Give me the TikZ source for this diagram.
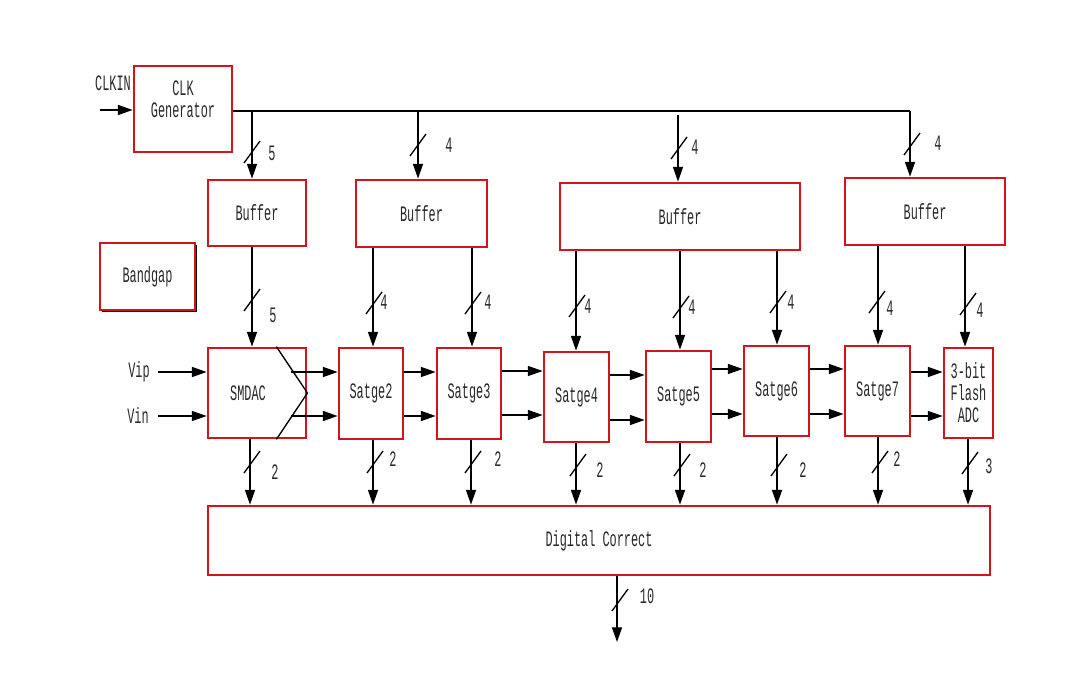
\documentclass[tikz,border=0pt]{standalone}
\usepackage{fontspec}
\setmainfont{Liberation Mono}[FakeStretch=0.54]
\usetikzlibrary{arrows.meta,fit,calc,shadows}
\definecolor{boxred}{RGB}{208,22,28}
\definecolor{inkgray}{RGB}{40,40,40}
\begin{document}
\begin{tikzpicture}[x=0.75pt,y=-0.75pt,
  every node/.style={font=\fontsize{16.5}{16.5}\selectfont, text=inkgray},
  blk/.style={draw=boxred, line width=2.1pt, fill=white, inner sep=0pt,
    general shadow={fill=black, shadow xshift=0.8pt, shadow yshift=-0.8pt}},
  txt/.style={label={[lbl, align=center]center:#1}},
  wire/.style={line width=1.1pt, black},
  arr/.style={wire, -{Triangle[length=11pt,width=7.5pt]}},
  slash/.style={line width=1pt, black},
  lbl/.style={inner sep=0pt}]
\useasboundingbox (0,0) rectangle (1087,698);

% ---- blocks ----
\node[blk, fit={(134,66) (232,152)}] (clk) {};
\node[lbl, align=center] (clktxt) at (183,99) {CLK\\Generator};
\node[blk, fit={(208,180) (306,246)}, txt=Buffer] (buf1) {};
\node[blk, fit={(356,180) (487,247)}, txt=Buffer] (buf2) {};
\node[blk, fit={(560,183) (800,250)}, txt=Buffer] (buf3) {};
\node[blk, fit={(845,178) (1005,245)}, txt=Buffer] (buf4) {};
\node[blk, fit={(100,243) (195,310)}, txt=Bandgap,
  general shadow={fill=black, shadow xshift=1.5pt, shadow yshift=-1.5pt}] (bg) {};
\node[blk, fit={(208,348) (306,438)}] (smdac) {};
\node[lbl] (smdactxt) at (248,393) {SMDAC};
\node[blk, fit={(339,348) (403,439)}, txt=Satge2] (s2) {};
\node[blk, fit={(437,348) (501,439)}, txt=Satge3] (s3) {};
\node[blk, fit={(544,352) (609,442)}, txt=Satge4] (s4) {};
\node[blk, fit={(646,351) (711,442)}, txt=Satge5] (s5) {};
\node[blk, fit={(744,346) (809,436)}, txt=Satge6] (s6) {};
\node[blk, fit={(845,346) (910,436)}, txt=Satge7] (s7) {};
\node[blk, fit={(944,348) (993,438)}, txt={3-bit\\Flash\\ADC}] (fl) {};
\node[blk, fit={(208,506) (990,575)}, txt={Digital Correct}] (dc) {};

% chevron inside the SMDAC block
\draw[line width=1pt] ($(smdac.north east)+(-31,0)$) -- (smdac.east) -- ($(smdac.south east)+(-31,0)$);

% ---- clock input and clock distribution ----
\coordinate (clkin) at (100,110);
\node[lbl] (clkinlbl) at (113,83) {CLKIN};
\draw[arr] (clkin) -- (clk.west |- clkin);

\coordinate (t1) at (252,111);
\coordinate (t2) at (418,111);
\coordinate (t3) at (678,115);
\coordinate (t4) at (910,111);
\draw[wire] (clk.east |- t1) -- (t4);
\draw[arr] (t1) -- (t1 |- buf1.north);
\draw[arr] (t2) -- (t2 |- buf2.north);
\draw[arr] (t3) -- (t3 |- buf3.north);
\draw[arr] (t4) -- (t4 |- buf4.north);
\draw[slash] (252,152) ++(-8,11) -- ++(16,-22);
\node[lbl] (c1) at (272,153) {5};
\draw[slash] (418,145) ++(-8,11) -- ++(16,-22);
\node[lbl] (c2) at (449,145) {4};
\draw[slash] (679,148) ++(-8,11) -- ++(16,-22);
\node[lbl] (c3) at (695,147) {4};
\draw[slash] (912,144) ++(-8,11) -- ++(16,-22);
\node[lbl] (c4) at (938,143) {4};

% ---- buffers to stages ----
\draw[arr] (buf1.south -| 252,0) -- (smdac.north -| 252,0);
\draw[slash] (252,300) ++(-8,11) -- ++(16,-22);
\node[lbl] (b1) at (273,315) {5};
\draw[arr] (buf2.south -| 373,0) -- (s2.north -| 373,0);
\draw[slash] (374,303) ++(-8,11) -- ++(16,-22);
\node[lbl] (b2) at (384,302) {4};
\draw[arr] (buf2.south -| 472,0) -- (s3.north -| 472,0);
\draw[slash] (473,303) ++(-8,11) -- ++(16,-22);
\node[lbl] (b3) at (488,302) {4};
\draw[arr] (buf3.south -| 576,0) -- (s4.north -| 576,0);
\draw[slash] (577,306) ++(-8,11) -- ++(16,-22);
\node[lbl] (b4) at (588,306) {4};
\draw[arr] (buf3.south -| 680,0) -- (s5.north -| 680,0);
\draw[slash] (681,307) ++(-8,11) -- ++(16,-22);
\node[lbl] (b5) at (692,307) {4};
\draw[arr] (buf3.south -| 777,0) -- (s6.north -| 777,0);
\draw[slash] (778,302) ++(-8,11) -- ++(16,-22);
\node[lbl] (b6) at (791,302) {4};
\draw[arr] (buf4.south -| 878,0) -- (s7.north -| 878,0);
\draw[slash] (877,302) ++(-8,11) -- ++(16,-22);
\node[lbl] (b7) at (890,308) {4};
\draw[arr] (buf4.south -| 965,0) -- (fl.north -| 965,0);
\draw[slash] (968,304) ++(-8,11) -- ++(16,-22);
\node[lbl] (b8) at (980,310) {4};

% ---- analog inputs ----
\node[lbl] (vip) at (139,372) {Vip};
\node[lbl] (vin) at (138,416) {Vin};
\draw[arr] (158,372) -- (smdac.west |- 0,372);
\draw[arr] (158,416) -- (smdac.west |- 0,416);

% ---- residue path between stages ----
\draw[arr] (291,372) -- (s2.west |- 0,372);
\draw[arr] (291,416) -- (s2.west |- 0,416);
\draw[arr] (s2.east |- 0,372) -- (s3.west |- 0,372);
\draw[arr] (s2.east |- 0,416) -- (s3.west |- 0,416);
\draw[arr] (s3.east |- 0,371) -- (s4.west |- 0,371);
\draw[arr] (s3.east |- 0,415) -- (s4.west |- 0,415);
\draw[arr] (s4.east |- 0,375) -- (s5.west |- 0,375);
\draw[arr] (s4.east |- 0,420) -- (s5.west |- 0,420);
\draw[arr] (s5.east |- 0,369) -- (s6.west |- 0,369);
\draw[arr] (s5.east |- 0,414) -- (s6.west |- 0,414);
\draw[arr] (s6.east |- 0,369) -- (s7.west |- 0,369);
\draw[arr] (s6.east |- 0,414) -- (s7.west |- 0,414);
\draw[arr] (s7.east |- 0,372) -- (fl.west |- 0,372);
\draw[arr] (s7.east |- 0,416) -- (fl.west |- 0,416);

% ---- stage outputs to digital correction ----
\draw[arr] (smdac.south -| 250,0) -- (dc.north -| 250,0);
\draw[slash] (252,462) ++(-8,11) -- ++(16,-22);
\node[lbl] (o1) at (275,472) {2};
\draw[arr] (s2.south -| 373,0) -- (dc.north -| 373,0);
\draw[slash] (375,462) ++(-8,11) -- ++(16,-22);
\node[lbl] (o2) at (393,459) {2};
\draw[arr] (s3.south -| 471,0) -- (dc.north -| 471,0);
\draw[slash] (473,462) ++(-8,11) -- ++(16,-22);
\node[lbl] (o3) at (498,459) {2};
\draw[arr] (s4.south -| 576,0) -- (dc.north -| 576,0);
\draw[slash] (578,465) ++(-8,11) -- ++(16,-22);
\node[lbl] (o4) at (600,470) {2};
\draw[arr] (s5.south -| 680,0) -- (dc.north -| 680,0);
\draw[slash] (682,465) ++(-8,11) -- ++(16,-22);
\node[lbl] (o5) at (703,470) {2};
\draw[arr] (s6.south -| 777,0) -- (dc.north -| 777,0);
\draw[slash] (779,465) ++(-8,11) -- ++(16,-22);
\node[lbl] (o6) at (803,470) {2};
\draw[arr] (s7.south -| 878,0) -- (dc.north -| 878,0);
\draw[slash] (880,462) ++(-8,11) -- ++(16,-22);
\node[lbl] (o7) at (897,459) {2};
\draw[arr] (fl.south -| 968,0) -- (dc.north -| 968,0);
\draw[slash] (970,463) ++(-8,11) -- ++(16,-22);
\node[lbl] (o8) at (989,466) {3};

% ---- 10-bit output ----
\coordinate (out) at (617,642);
\draw[arr] (dc.south -| out) -- (out);
\draw[slash] (620,600) ++(-8,11) -- ++(16,-22);
\node[lbl] (olbl) at (647,596) {10};
\end{tikzpicture}
\end{document}
